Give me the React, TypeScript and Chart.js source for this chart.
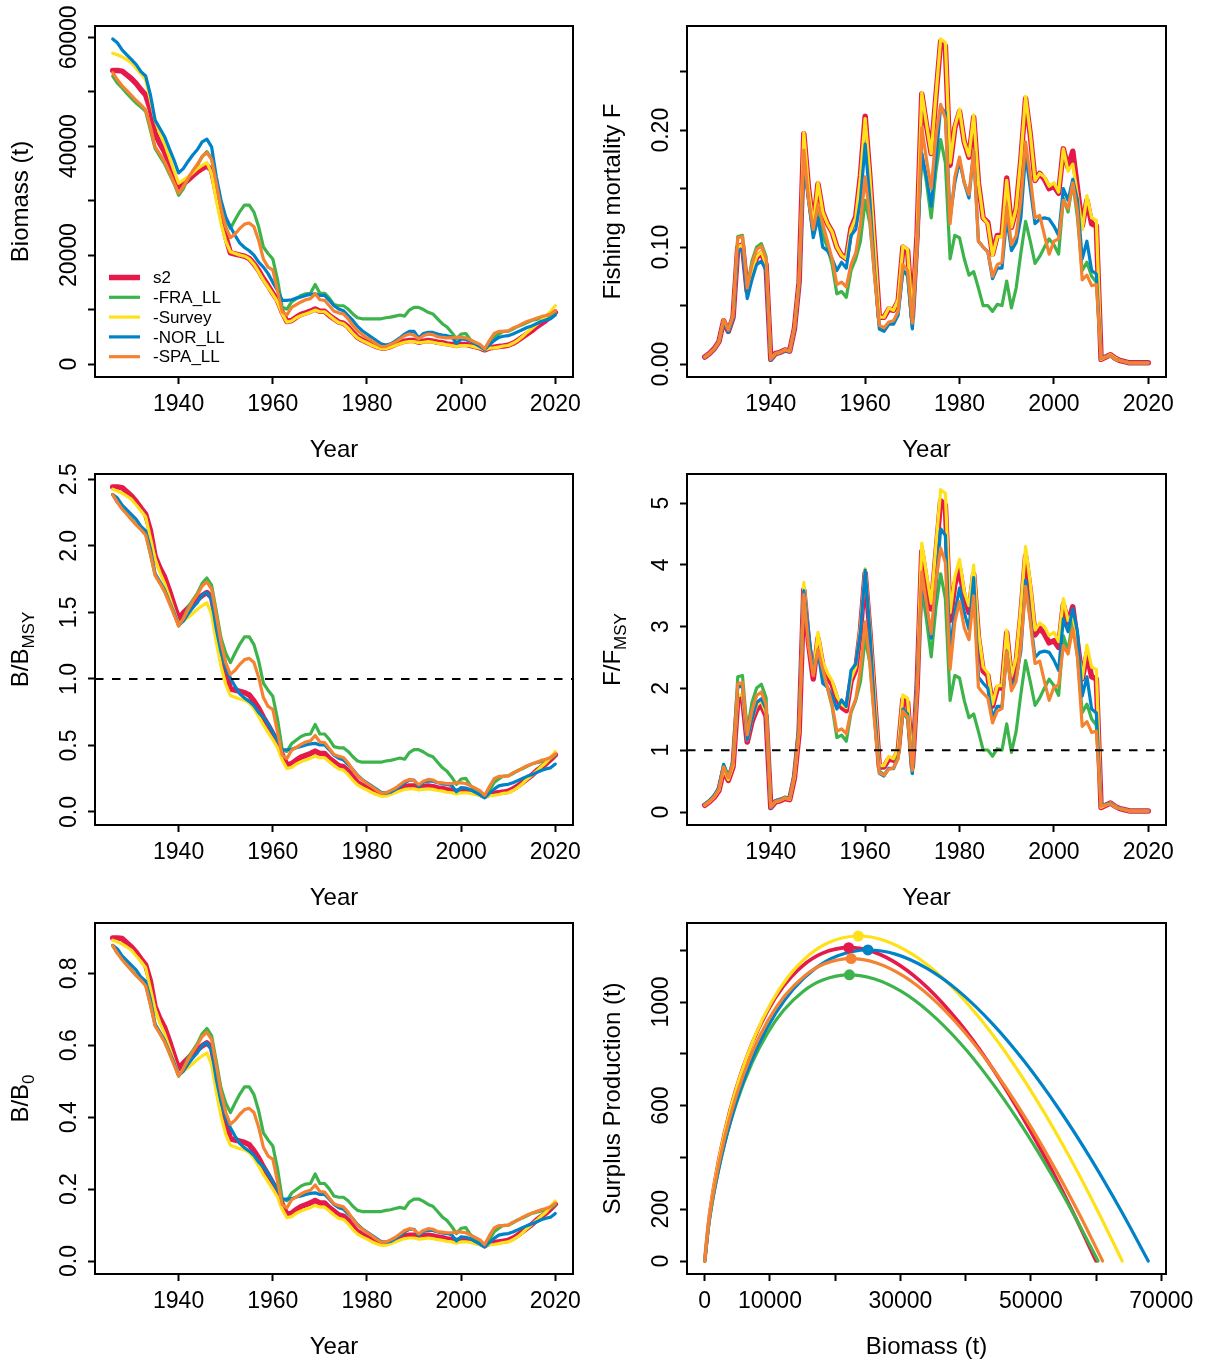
import React, { useEffect, useRef } from 'react';
import { Chart, registerables } from 'chart.js';

Chart.register(...registerables);

const FONT = "'Liberation Sans', Arial, Helvetica, sans-serif";
const TICK_FONT = 23;
const TITLE_FONT = 24;

// ---------------- categories ----------------
const years = [
  1926, 1927, 1928, 1929, 1930, 1931, 1932, 1933, 1934, 1935,
  1936, 1937, 1938, 1939, 1940, 1941, 1942, 1943, 1944, 1945,
  1946, 1947, 1948, 1949, 1950, 1951, 1952, 1953, 1954, 1955,
  1956, 1957, 1958, 1959, 1960, 1961, 1962, 1963, 1964, 1965,
  1966, 1967, 1968, 1969, 1970, 1971, 1972, 1973, 1974, 1975,
  1976, 1977, 1978, 1979, 1980, 1981, 1982, 1983, 1984, 1985,
  1986, 1987, 1988, 1989, 1990, 1991, 1992, 1993, 1994, 1995,
  1996, 1997, 1998, 1999, 2000, 2001, 2002, 2003, 2004, 2005,
  2006, 2007, 2008, 2009, 2010, 2011, 2012, 2013, 2014, 2015,
  2016, 2017, 2018, 2019, 2020,
];

const runNames = ['s2', '-FRA_LL', '-Survey', '-NOR_LL', '-SPA_LL'];
const runColors = ['#e6194b', '#3cb44b', '#ffe119', '#0082c8', '#f58231'];
const runWidths = [5.5, 3.2, 3.2, 3.2, 3.2];
const spWidths = [3.6, 3.2, 3.2, 3.2, 3.2];
const runOrder = [5, 4, 3, 2, 1];

// ---------------- biomass (t) ----------------
const biomassS2 = [
  53900, 53900, 53800, 53100, 52400, 51500, 50400, 49400, 46700, 42400,
  40500, 39000, 36800, 34400, 32100, 33000, 33800, 34600, 35300, 35900,
  36400, 35600, 31500, 27400, 23400, 20400, 20200, 20000, 19800, 19400,
  18400, 17200, 15700, 14400, 13000, 11700, 9500, 7800, 8000, 8600,
  9100, 9400, 9700, 10100, 9700, 9700, 8900, 8300, 7700, 7500,
  6800, 5800, 4900, 4400, 4000, 3600, 3200, 2950, 2950, 3200,
  3600, 3900, 4200, 4300, 4300, 4000, 4200, 4300, 4200, 4000,
  3900, 3700, 3600, 3400, 3600, 3600, 3400, 3200, 2950, 2600,
  2950, 3100, 3200, 3300, 3450, 3800, 4300, 4900, 5500, 6100,
  6800, 7400, 8000, 8700, 9500,
];
const biomassFRA = [
  52900, 51600, 50700, 49700, 48800, 47900, 47200, 46400, 43000, 39600,
  38200, 36800, 35000, 33200, 31000, 32200, 34100, 35300, 36500, 38100,
  39000, 37800, 33500, 29000, 26500, 24900, 26500, 28000, 29200, 29200,
  27900, 25200, 21500, 20300, 19300, 15500, 10400, 10100, 11400, 12000,
  12600, 12900, 13000, 14600, 13000, 13000, 12100, 10900, 10700, 10700,
  10100, 9200, 8500, 8300, 8300, 8300, 8300, 8300, 8500, 8600,
  8800, 9000, 8800, 9900, 10400, 10400, 10000, 9500, 9200, 8300,
  7400, 6800, 5800, 4600, 5500, 5600, 4400, 3700, 3200, 2600,
  3600, 4900, 5500, 6000, 6000, 6400, 6900, 7200, 7600, 8000,
  8200, 8400, 8600, 8900, 9500,
];
const biomassSurvey = [
  57100, 56800, 56400, 55900, 55300, 54300, 53300, 52200, 48500, 44800,
  42400, 40500, 38100, 35600, 33200, 33800, 34400, 35100, 35900, 36500,
  37000, 35000, 30100, 25800, 22600, 20600, 20300, 20000, 19800, 19300,
  18300, 16900, 15400, 14100, 12800, 11400, 9200, 7700, 7900, 8500,
  8900, 9200, 9500, 9900, 9600, 9600, 8900, 8200, 7600, 7400,
  6600, 5600, 4800, 4300, 3900, 3450, 3100, 2800, 2800, 3100,
  3400, 3700, 4000, 4100, 4100, 3900, 4000, 4100, 4000, 3800,
  3700, 3500, 3400, 3200, 3400, 3400, 3300, 3100, 2900, 2600,
  2900, 2950, 3100, 3300, 3400, 3800, 4300, 5000, 5800, 6500,
  7200, 8000, 8700, 9700, 10700,
];
const biomassNOR = [
  59700, 59000, 57700, 56800, 55900, 55000, 53700, 52900, 49500, 44800,
  43300, 41800, 39600, 37500, 35100, 35900, 37200, 38400, 39400, 40800,
  41300, 39900, 34400, 30100, 27000, 25200, 23600, 22200, 21400, 20800,
  20000, 18700, 17800, 16600, 15000, 13500, 11700, 11700, 11800, 12100,
  12300, 12600, 12800, 12900, 12600, 12600, 11700, 10700, 10100, 9800,
  8900, 8000, 6900, 6100, 5500, 4900, 4300, 3700, 3500, 3700,
  4200, 4800, 5500, 6000, 6000, 4800, 5600, 5800, 5800, 5500,
  5300, 5200, 5000, 3800, 4600, 4500, 4200, 3700, 3200, 2650,
  3500, 4300, 4900, 5100, 5200, 5500, 5900, 6300, 6700, 7000,
  7400, 7800, 8100, 8300, 9000,
];
const biomassSPA = [
  53500, 52200, 51100, 50200, 49300, 48400, 47600, 46700, 43600, 39900,
  38600, 37200, 35300, 33300, 31400, 32600, 34100, 35500, 36700, 38100,
  38800, 37600, 33200, 28600, 25200, 23200, 23900, 24900, 25700, 25900,
  25200, 22700, 19300, 17800, 17300, 13500, 9600, 9000, 10400, 10900,
  11400, 11800, 12000, 12900, 11800, 11700, 10700, 9700, 9400, 9200,
  8300, 7100, 6100, 5400, 4800, 4300, 3700, 3200, 3200, 3600,
  4000, 4600, 5200, 5500, 5300, 4600, 5200, 5500, 5400, 5000,
  4900, 4800, 4800, 4900, 4900, 4800, 4400, 4000, 3600, 2800,
  4300, 5600, 6000, 6000, 6100, 6600, 6900, 7400, 7800, 8100,
  8400, 8700, 8900, 9200, 9800,
];

// ---------------- fishing mortality F ----------------
const fS2 = [
  0.006, 0.009, 0.013, 0.019, 0.037, 0.028, 0.040, 0.100, 0.102, 0.062,
  0.080, 0.091, 0.095, 0.085, 0.004, 0.009, 0.010, 0.012, 0.011, 0.030,
  0.070, 0.197, 0.150, 0.118, 0.154, 0.130, 0.120, 0.113, 0.100, 0.093,
  0.090, 0.116, 0.126, 0.161, 0.212, 0.160, 0.100, 0.040, 0.040, 0.047,
  0.046, 0.054, 0.100, 0.097, 0.040, 0.110, 0.231, 0.204, 0.180, 0.229,
  0.276, 0.272, 0.170, 0.202, 0.216, 0.190, 0.177, 0.211, 0.155, 0.125,
  0.121, 0.094, 0.110, 0.110, 0.159, 0.117, 0.133, 0.175, 0.227, 0.196,
  0.157, 0.163, 0.158, 0.150, 0.152, 0.146, 0.184, 0.168, 0.182, 0.150,
  0.118, 0.140, 0.120, 0.118, 0.004, 0.006, 0.008, 0.005, 0.003, 0.002,
  0.001, 0.001, 0.001, 0.001, 0.001,
];
const fFRA = [
  0.006, 0.009, 0.013, 0.019, 0.038, 0.029, 0.041, 0.109, 0.110, 0.065,
  0.088, 0.100, 0.103, 0.092, 0.004, 0.009, 0.010, 0.012, 0.011, 0.031,
  0.070, 0.180, 0.140, 0.115, 0.130, 0.110, 0.100, 0.085, 0.060, 0.062,
  0.057, 0.080, 0.090, 0.105, 0.140, 0.120, 0.075, 0.033, 0.030, 0.035,
  0.035, 0.045, 0.080, 0.075, 0.031, 0.100, 0.180, 0.155, 0.125, 0.165,
  0.192, 0.172, 0.090, 0.110, 0.108, 0.090, 0.076, 0.079, 0.065, 0.050,
  0.050, 0.045, 0.051, 0.050, 0.071, 0.048, 0.065, 0.095, 0.122, 0.105,
  0.086, 0.092, 0.100, 0.107, 0.102, 0.094, 0.142, 0.130, 0.155, 0.125,
  0.080, 0.087, 0.075, 0.070, 0.005, 0.006, 0.007, 0.004, 0.003, 0.002,
  0.001, 0.001, 0.001, 0.001, 0.001,
];
const fSurvey = [
  0.006, 0.009, 0.013, 0.019, 0.037, 0.028, 0.040, 0.100, 0.102, 0.062,
  0.080, 0.092, 0.096, 0.085, 0.004, 0.009, 0.010, 0.012, 0.011, 0.030,
  0.070, 0.198, 0.150, 0.118, 0.155, 0.130, 0.120, 0.113, 0.100, 0.093,
  0.090, 0.115, 0.125, 0.160, 0.210, 0.160, 0.100, 0.040, 0.040, 0.048,
  0.046, 0.055, 0.101, 0.098, 0.040, 0.110, 0.232, 0.205, 0.180, 0.230,
  0.278, 0.275, 0.172, 0.203, 0.218, 0.190, 0.178, 0.213, 0.155, 0.125,
  0.120, 0.093, 0.109, 0.109, 0.157, 0.117, 0.133, 0.176, 0.229, 0.197,
  0.157, 0.163, 0.160, 0.152, 0.155, 0.147, 0.184, 0.165, 0.171, 0.144,
  0.115, 0.144, 0.125, 0.123, 0.004, 0.006, 0.008, 0.005, 0.003, 0.002,
  0.001, 0.001, 0.001, 0.001, 0.001,
];
const fNOR = [
  0.006, 0.009, 0.013, 0.019, 0.037, 0.027, 0.039, 0.097, 0.098, 0.056,
  0.072, 0.085, 0.088, 0.080, 0.003, 0.009, 0.010, 0.011, 0.011, 0.030,
  0.068, 0.172, 0.140, 0.108, 0.125, 0.100, 0.097, 0.090, 0.080, 0.087,
  0.082, 0.110, 0.115, 0.140, 0.188, 0.140, 0.080, 0.030, 0.028, 0.034,
  0.034, 0.042, 0.080, 0.076, 0.030, 0.100, 0.180, 0.160, 0.135, 0.175,
  0.220, 0.215, 0.125, 0.155, 0.174, 0.155, 0.142, 0.182, 0.105, 0.100,
  0.096, 0.073, 0.082, 0.082, 0.125, 0.097, 0.104, 0.125, 0.180, 0.150,
  0.120, 0.124, 0.125, 0.124, 0.118, 0.110, 0.150, 0.140, 0.158, 0.140,
  0.090, 0.105, 0.080, 0.077, 0.005, 0.006, 0.007, 0.004, 0.003, 0.002,
  0.001, 0.001, 0.001, 0.001, 0.001,
];
const fSPA = [
  0.006, 0.009, 0.013, 0.019, 0.038, 0.029, 0.041, 0.108, 0.109, 0.065,
  0.085, 0.098, 0.101, 0.090, 0.004, 0.009, 0.010, 0.012, 0.011, 0.031,
  0.070, 0.183, 0.140, 0.115, 0.137, 0.120, 0.105, 0.090, 0.068, 0.070,
  0.066, 0.085, 0.095, 0.120, 0.160, 0.125, 0.075, 0.033, 0.031, 0.036,
  0.037, 0.045, 0.085, 0.080, 0.035, 0.100, 0.202, 0.175, 0.150, 0.195,
  0.222, 0.210, 0.120, 0.160, 0.177, 0.155, 0.145, 0.182, 0.105, 0.100,
  0.096, 0.075, 0.085, 0.087, 0.135, 0.102, 0.110, 0.140, 0.190, 0.160,
  0.125, 0.127, 0.110, 0.094, 0.105, 0.107, 0.140, 0.133, 0.155, 0.130,
  0.072, 0.076, 0.067, 0.068, 0.005, 0.006, 0.007, 0.004, 0.003, 0.002,
  0.001, 0.001, 0.001, 0.001, 0.001,
];

// ---------------- reference points per run ----------------
const refB0 = [60000, 60300, 64000, 68000, 61000];
const refBMSY = [22073, 22183, 23545, 25016, 22441];
const refMSY = [1210, 1105, 1255, 1201, 1168];
const refFMSY = [0.0548, 0.0498, 0.0533, 0.048, 0.052];

// ---------------- surplus production curves ----------------
const spBiomassS2 = [0, 600, 1500, 3000, 4800, 7200, 9600, 12000, 15000, 18000, 22073, 25800, 30000, 34200, 39000, 43200, 48000, 52200, 56400, 60000];
const spProdS2 = [0, 151, 303, 493, 665, 837, 964, 1059, 1140, 1188, 1210, 1194, 1140, 1054, 921, 778, 587, 399, 191, 0];
const spBiomassFRA = [0, 603, 1508, 3015, 4824, 7236, 9648, 12060, 15075, 18090, 22183, 25929, 30150, 34371, 39195, 43416, 48240, 52461, 56682, 60300];
const spProdFRA = [0, 138, 277, 450, 607, 764, 881, 967, 1041, 1085, 1105, 1090, 1041, 962, 841, 710, 536, 364, 175, 0];
const spBiomassSurvey = [0, 640, 1600, 3200, 5120, 7680, 10240, 12800, 16000, 19200, 23545, 27520, 32000, 36480, 41600, 46080, 51200, 55680, 60160, 64000];
const spProdSurvey = [0, 157, 315, 511, 689, 868, 1000, 1098, 1182, 1232, 1255, 1238, 1182, 1093, 955, 807, 609, 413, 198, 0];
const spBiomassNOR = [0, 680, 1700, 3400, 5440, 8160, 10880, 13600, 17000, 20400, 25016, 29240, 34000, 38760, 44200, 48960, 54400, 59160, 63920, 68000];
const spProdNOR = [0, 150, 301, 489, 660, 831, 957, 1051, 1131, 1179, 1201, 1185, 1131, 1046, 914, 772, 583, 396, 190, 0];
const spBiomassSPA = [0, 610, 1525, 3050, 4880, 7320, 9760, 12200, 15250, 18300, 22441, 26230, 30500, 34770, 39650, 43920, 48800, 53070, 57340, 61000];
const spProdSPA = [0, 146, 293, 476, 642, 808, 931, 1022, 1100, 1147, 1168, 1152, 1100, 1017, 889, 751, 567, 385, 185, 0];

// ---------------- ticks ----------------
const yearTicks = [1940, 1960, 1980, 2000, 2020];
const yearTickLabels = ['1940', '1960', '1980', '2000', '2020'];
const biomassTicks = [0, 10000, 20000, 30000, 40000, 50000, 60000];
const biomassTickLabels = ['0', '', '20000', '', '40000', '', '60000'];
const fTicks = [0, 0.05, 0.1, 0.15, 0.2, 0.25];
const fTickLabels = ['0.00', '', '0.10', '', '0.20', ''];
const bBmsyTicks = [0, 0.5, 1, 1.5, 2, 2.5];
const bBmsyTickLabels = ['0.0', '0.5', '1.0', '1.5', '2.0', '2.5'];
const fFmsyTicks = [0, 1, 2, 3, 4, 5];
const fFmsyTickLabels = ['0', '1', '2', '3', '4', '5'];
const bB0Ticks = [0, 0.2, 0.4, 0.6, 0.8];
const bB0TickLabels = ['0.0', '0.2', '0.4', '0.6', '0.8'];
const spTicks = [0, 200, 400, 600, 800, 1000, 1200];
const spTickLabels = ['0', '200', '', '600', '', '1000', ''];
const spBiomassTicks = [0, 10000, 20000, 30000, 40000, 50000, 60000, 70000];
const spBiomassTickLabels = ['0', '10000', '', '30000', '', '50000', '', '70000'];

// ---------------- tables built from the arrays ----------------
const biomassTable = [biomassS2, biomassFRA, biomassSurvey, biomassNOR, biomassSPA];
const fTable = [fS2, fFRA, fSurvey, fNOR, fSPA];
const bBmsyTable = biomassTable.map((vals, r) => vals.map((v) => v / refBMSY[r]));
const fFmsyTable = fTable.map((vals, r) => vals.map((v) => v / refFMSY[r]));
const bB0Table = biomassTable.map((vals, r) => vals.map((v) => v / refB0[r]));
const spTable = [
  [spBiomassS2, spProdS2],
  [spBiomassFRA, spProdFRA],
  [spBiomassSurvey, spProdSurvey],
  [spBiomassNOR, spProdNOR],
  [spBiomassSPA, spProdSPA],
];

const lineStyle = (r: number, widths: number[]) => ({
  borderColor: runColors[r],
  backgroundColor: runColors[r],
  borderWidth: widths[r],
  pointRadius: 0,
  fill: false,
  borderJoinStyle: 'round',
  borderCapStyle: 'round',
  order: runOrder[r],
});

const timeSeries = (table: number[][]) =>
  table.map((vals, r) => ({
    type: 'line',
    label: runNames[r],
    data: years.map((yr, i) => ({ x: yr, y: vals[i] })),
    tension: 0,
    ...lineStyle(r, runWidths),
  }));

const spDatasets = () => {
  const curves: any[] = spTable.map(([bs, ps], r) => ({
    type: 'line',
    label: runNames[r],
    data: bs.map((b, i) => ({ x: b, y: ps[i] })),
    cubicInterpolationMode: 'monotone',
    ...lineStyle(r, spWidths),
  }));
  const marks: any[] = runNames.map((name, r) => ({
    type: 'line',
    label: name + ' MSY',
    data: [{ x: refBMSY[r], y: refMSY[r] }],
    showLine: false,
    pointRadius: 5.5,
    pointBackgroundColor: runColors[r],
    pointBorderColor: runColors[r],
    pointBorderWidth: 0,
    order: 0,
  }));
  return curves.concat(marks);
};

// ---------------- layout (absolute page pixels) ----------------
const PAGE_W = 1211;
const PAGE_H = 1360;
const X_AXIS_H = 48;
const COLS = [
  { boxL: 95, boxR: 573 },
  { boxL: 687, boxR: 1166 },
];
const ROWS = [
  { boxT: 26, boxB: 377 },
  { boxT: 474, boxB: 825 },
  { boxT: 923, boxB: 1274 },
];
const YEAR_RANGE: [number, number] = [1922.24, 2023.76];

type PanelCfg = {
  id: string;
  col: number;
  row: number;
  xRange: [number, number];
  yRange: [number, number];
  xTicks: number[];
  xTickLabels: string[];
  yTicks: number[];
  yTickLabels: string[];
  xTitle: string;
  yTitle: string;
  ySub?: string;
  refLine?: number;
  legend?: boolean;
  datasets: any[];
};

const panels: PanelCfg[] = [
  {
    id: 'biomass', col: 0, row: 0, xRange: YEAR_RANGE, yRange: [-2388, 62088],
    xTicks: yearTicks, xTickLabels: yearTickLabels, yTicks: biomassTicks, yTickLabels: biomassTickLabels,
    xTitle: 'Year', yTitle: 'Biomass (t)', legend: true, datasets: timeSeries(biomassTable),
  },
  {
    id: 'f', col: 1, row: 0, xRange: YEAR_RANGE, yRange: [-0.0111, 0.2891],
    xTicks: yearTicks, xTickLabels: yearTickLabels, yTicks: fTicks, yTickLabels: fTickLabels,
    xTitle: 'Year', yTitle: 'Fishing mortality F', datasets: timeSeries(fTable),
  },
  {
    id: 'bbmsy', col: 0, row: 1, xRange: YEAR_RANGE, yRange: [-0.0977, 2.5397],
    xTicks: yearTicks, xTickLabels: yearTickLabels, yTicks: bBmsyTicks, yTickLabels: bBmsyTickLabels,
    xTitle: 'Year', yTitle: 'B/B', ySub: 'MSY', refLine: 1, datasets: timeSeries(bBmsyTable),
  },
  {
    id: 'ffmsy', col: 1, row: 1, xRange: YEAR_RANGE, yRange: [-0.21, 5.47],
    xTicks: yearTicks, xTickLabels: yearTickLabels, yTicks: fFmsyTicks, yTickLabels: fFmsyTickLabels,
    xTitle: 'Year', yTitle: 'F/F', ySub: 'MSY', refLine: 1, datasets: timeSeries(fFmsyTable),
  },
  {
    id: 'bb0', col: 0, row: 2, xRange: YEAR_RANGE, yRange: [-0.036, 0.94],
    xTicks: yearTicks, xTickLabels: yearTickLabels, yTicks: bB0Ticks, yTickLabels: bB0TickLabels,
    xTitle: 'Year', yTitle: 'B/B', ySub: '0', datasets: timeSeries(bB0Table),
  },
  {
    id: 'sp', col: 1, row: 2, xRange: [-2720, 70720], yRange: [-50.2, 1305.2],
    xTicks: spBiomassTicks, xTickLabels: spBiomassTickLabels, yTicks: spTicks, yTickLabels: spTickLabels,
    xTitle: 'Biomass (t)', yTitle: 'Surplus Production (t)', datasets: spDatasets(),
  },
];

function buildConfig(cfg: PanelCfg): any {
  const col = COLS[cfg.col];
  const row = ROWS[cfg.row];
  const axisGrid = {
    display: true,
    drawOnChartArea: false,
    drawTicks: true,
    tickLength: 7,
    tickWidth: 2,
    tickColor: '#000',
    color: '#000',
  };
  const decor = {
    id: 'decor',
    afterDatasetsDraw(chart: any) {
      if (cfg.refLine === undefined) return;
      const { ctx, chartArea: a, scales } = chart;
      const y = scales.y.getPixelForValue(cfg.refLine);
      ctx.save();
      ctx.strokeStyle = '#000';
      ctx.lineWidth = 2;
      ctx.setLineDash([8.5, 8.5]);
      ctx.beginPath();
      ctx.moveTo(a.left, y);
      ctx.lineTo(a.right, y);
      ctx.stroke();
      ctx.restore();
    },
    afterDraw(chart: any) {
      const { ctx, chartArea: a, scales } = chart;
      ctx.save();
      // box
      ctx.strokeStyle = '#000';
      ctx.lineWidth = 2;
      ctx.setLineDash([]);
      ctx.strokeRect(a.left, a.top, a.right - a.left, a.bottom - a.top);
      // y tick labels (rotated, like R las = 0)
      ctx.fillStyle = '#000';
      ctx.font = `${TICK_FONT}px ${FONT}`;
      ctx.textAlign = 'center';
      ctx.textBaseline = 'alphabetic';
      cfg.yTicks.forEach((v, i) => {
        const lab = cfg.yTickLabels[i];
        if (!lab) return;
        const py = scales.y.getPixelForValue(v);
        ctx.save();
        ctx.translate(a.left - 19.5, py);
        ctx.rotate(-Math.PI / 2);
        ctx.fillText(lab, 0, 0);
        ctx.restore();
      });
      // y title
      ctx.save();
      ctx.translate(a.left - 67, (a.top + a.bottom) / 2);
      ctx.rotate(-Math.PI / 2);
      ctx.font = `${TITLE_FONT}px ${FONT}`;
      const wMain = ctx.measureText(cfg.yTitle).width;
      let wSub = 0;
      if (cfg.ySub) {
        ctx.font = `17px ${FONT}`;
        wSub = ctx.measureText(cfg.ySub).width;
      }
      const start = -(wMain + wSub) / 2;
      ctx.textAlign = 'left';
      ctx.font = `${TITLE_FONT}px ${FONT}`;
      ctx.fillText(cfg.yTitle, start, 0);
      if (cfg.ySub) {
        ctx.font = `17px ${FONT}`;
        ctx.fillText(cfg.ySub, start + wMain, 6);
      }
      ctx.restore();
      // x title
      ctx.font = `${TITLE_FONT}px ${FONT}`;
      ctx.textAlign = 'center';
      ctx.textBaseline = 'alphabetic';
      ctx.fillText(cfg.xTitle, (a.left + a.right) / 2, a.bottom + 80);
      // legend
      if (cfg.legend) {
        ctx.font = `17px ${FONT}`;
        ctx.textAlign = 'left';
        ctx.textBaseline = 'middle';
        runNames.forEach((name, r) => {
          const y = a.top + 251.5 + r * 19.8;
          ctx.strokeStyle = runColors[r];
          ctx.lineWidth = runWidths[r];
          ctx.lineCap = 'butt';
          ctx.beginPath();
          ctx.moveTo(a.left + 14, y);
          ctx.lineTo(a.left + 45, y);
          ctx.stroke();
          ctx.fillStyle = '#000';
          ctx.fillText(name, a.left + 58, y + 1);
        });
      }
      ctx.restore();
    },
  };

  return {
    type: 'line',
    data: { datasets: cfg.datasets },
    options: {
      responsive: false,
      maintainAspectRatio: false,
      animation: false,
      devicePixelRatio: 1,
      events: [],
      layout: {
        autoPadding: false,
        padding: {
          left: col.boxL,
          top: row.boxT,
          right: PAGE_W - col.boxR,
          bottom: PAGE_H - row.boxB - X_AXIS_H,
        },
      },
      plugins: {
        legend: { display: false },
        tooltip: { enabled: false },
        title: { display: false },
      },
      scales: {
        x: {
          type: 'linear',
          min: cfg.xRange[0],
          max: cfg.xRange[1],
          bounds: 'data',
          afterBuildTicks: (s: any) => {
            s.ticks = cfg.xTicks.map((v) => ({ value: v }));
          },
          afterFit: (s: any) => {
            s.height = X_AXIS_H;
          },
          ticks: {
            autoSkip: false,
            maxRotation: 0,
            minRotation: 0,
            padding: 7.2,
            color: '#000',
            font: { family: FONT, size: TICK_FONT, lineHeight: 1.2 },
            callback: (v: number) => {
              const i = cfg.xTicks.indexOf(v);
              return i >= 0 ? cfg.xTickLabels[i] : '';
            },
          },
          grid: axisGrid,
          border: { display: false },
        },
        y: {
          type: 'linear',
          min: cfg.yRange[0],
          max: cfg.yRange[1],
          bounds: 'data',
          afterBuildTicks: (s: any) => {
            s.ticks = cfg.yTicks.map((v) => ({ value: v }));
          },
          afterFit: (s: any) => {
            s.width = 0;
          },
          ticks: { display: false },
          grid: axisGrid,
          border: { display: false },
        },
      },
    },
    plugins: [decor],
  };
}

function PanelChart({ cfg }: { cfg: PanelCfg }) {
  const ref = useRef<HTMLCanvasElement>(null);
  useEffect(() => {
    if (!ref.current) return;
    const chart = new Chart(ref.current, buildConfig(cfg));
    return () => chart.destroy();
  }, [cfg]);
  return (
    <canvas
      ref={ref}
      width={PAGE_W}
      height={PAGE_H}
      style={{ position: 'absolute', left: 0, top: 0, width: PAGE_W, height: PAGE_H }}
    />
  );
}

export default function App() {
  return (
    <div
      style={{
        position: 'absolute',
        left: 0,
        top: 0,
        width: PAGE_W,
        height: PAGE_H,
        background: '#ffffff',
        overflow: 'hidden',
      }}
    >
      {panels.map((p) => (
        <PanelChart key={p.id} cfg={p} />
      ))}
    </div>
  );
}
